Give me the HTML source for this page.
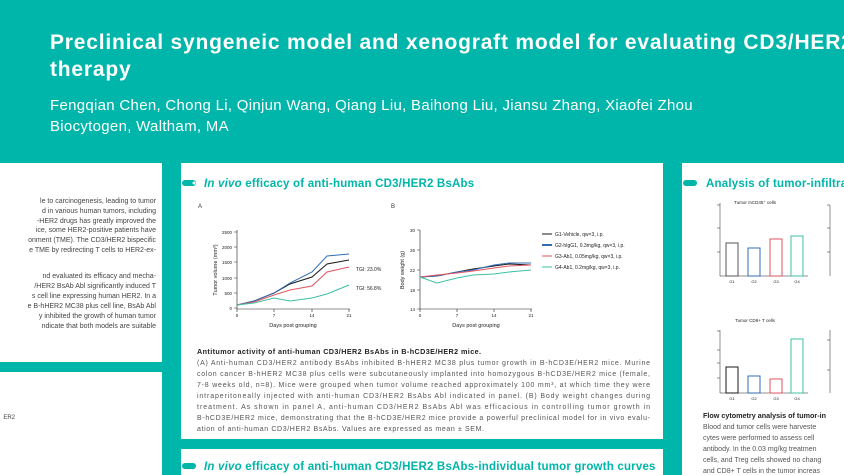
<!DOCTYPE html>
<html><head><meta charset="utf-8"><style>
body{margin:0;width:844px;height:475px;overflow:hidden;background:#00b5a9;font-family:"Liberation Sans",sans-serif;position:relative}
.p{position:absolute;background:#fff}
.t{position:absolute;color:#fff;white-space:nowrap}
.clip{position:absolute;left:0;top:0;width:844px;height:160px;overflow:hidden}
svg{position:absolute;left:0;top:0}
</style></head><body>
<div class="clip">
<div class="t" style="left:50px;top:31px;font-size:21px;font-weight:bold;letter-spacing:0.8px">Preclinical syngeneic model and xenograft model for evaluating CD3/HER2</div>
<div class="t" style="left:50px;top:58px;font-size:21px;font-weight:bold;letter-spacing:0.8px">therapy</div>
<div class="t" style="left:50px;top:97px;font-size:15px;letter-spacing:0.3px">Fengqian Chen, Chong Li, Qinjun Wang, Qiang Liu, Baihong Liu, Jiansu Zhang, Xiaofei Zhou</div>
<div class="t" style="left:50px;top:118px;font-size:15px;letter-spacing:0.3px">Biocytogen, Waltham, MA</div>
</div>
<div class="p" style="left:0;top:163px;width:162px;height:199px"></div>
<div class="p" style="left:0;top:372px;width:162px;height:103px"></div>
<div class="p" style="left:181px;top:163px;width:482px;height:276px"></div>
<div class="p" style="left:181px;top:449px;width:482px;height:26px"></div>
<div class="p" style="left:682px;top:163px;width:162px;height:312px"></div>
<svg width="844" height="475" font-family="Liberation Sans, sans-serif">
<g font-size="7" fill="#444" text-anchor="end">
<text x="156" y="203">le to carcinogenesis, leading to tumor</text>
<text x="156" y="213">d in various human tumors, including</text>
<text x="156" y="223">-HER2 drugs has greatly improved the</text>
<text x="156" y="232">ice, some HER2-positive patients have</text>
<text x="156" y="242">onment (TME). The CD3/HER2 bispecific</text>
<text x="156" y="252">e TME by redirecting T cells to HER2-ex-</text>
<text x="156" y="278">nd evaluated its efficacy and mecha-</text>
<text x="156" y="288">/HER2 BsAb Abl significantly induced T</text>
<text x="156" y="298">s cell line expressing human HER2. In a</text>
<text x="156" y="308">e B-hHER2 MC38 plus cell line, BsAb Abl</text>
<text x="156" y="318">y inhibited the growth of human tumor</text>
<text x="156" y="328">ndicate that both models are suitable</text>
<text x="15" y="419" font-size="6">ER2</text>
</g>
<rect x="182" y="180" width="14" height="6" rx="3" fill="#00b5a9"/><circle cx="194" cy="183" r="1.5" fill="#fff"/>
<text x="204" y="187" font-size="11.5" font-weight="bold" fill="#00b5a9" letter-spacing="0.2"><tspan font-style="italic">In vivo</tspan> efficacy of anti-human CD3/HER2 BsAbs</text>
<text x="204" y="470" font-size="11.5" font-weight="bold" fill="#00b5a9" letter-spacing="0.2"><tspan font-style="italic">In vivo</tspan> efficacy of anti-human CD3/HER2 BsAbs-individual tumor growth curves</text>
<rect x="182" y="463" width="14" height="6" rx="3" fill="#00b5a9"/>
<text x="198" y="208" font-size="6" fill="#333">A</text><text x="391" y="208" font-size="6" fill="#333">B</text>
<g stroke="#222" stroke-width="0.6" fill="none">
<path d="M237 230V309H350"/><path d="M234 232h3M234 247h3M234 262h3M234 278h3M234 293h3M234 308h3M237 309v3M274 309v3M312 309v3M349 309v3"/>
<path d="M420 230V309H532"/><path d="M417 230h3M417 250h3M417 270h3M417 290h3M417 309h3M420 309v3M457 309v3M494 309v3M531 309v3"/>
</g>
<g font-size="4.5" fill="#222">
<g text-anchor="end"><text x="232" y="234">2500</text><text x="232" y="249">2000</text><text x="232" y="264">1500</text><text x="232" y="280">1000</text><text x="232" y="295">500</text><text x="232" y="310">0</text>
<text x="415" y="232">30</text><text x="415" y="252">26</text><text x="415" y="272">22</text><text x="415" y="292">18</text><text x="415" y="311">14</text></g>
<g text-anchor="middle"><text x="237" y="317">0</text><text x="274" y="317">7</text><text x="312" y="317">14</text><text x="349" y="317">21</text>
<text x="420" y="317">0</text><text x="457" y="317">7</text><text x="494" y="317">14</text><text x="531" y="317">21</text>
<text x="293" y="327" font-size="5.5">Days post grouping</text><text x="476" y="327" font-size="5.5">Days post grouping</text></g>
<text transform="translate(217,270) rotate(-90)" text-anchor="middle" font-size="5.5">Tumor volume (mm³)</text>
<text transform="translate(404,270) rotate(-90)" text-anchor="middle" font-size="5.5">Body weight (g)</text>
<text x="356" y="271" font-size="5">TGI: 23.0%</text><text x="356" y="290" font-size="5">TGI: 56.8%</text>
</g>
<g fill="none" stroke-width="1">
<polyline stroke="#1a1a1a" points="237,305 254,301 274,293 290,284 312,277 327,264 349,260"/>
<polyline stroke="#2f6db5" points="237,305 254,301 274,293 290,283 312,272 327,256 349,254"/>
<polyline stroke="#e0555f" points="237,305 254,302 274,295 290,290 312,286 327,272 349,267"/>
<polyline stroke="#3cc0a5" points="237,305 254,303 274,298 290,301 312,298 327,294 349,285"/>
<polyline stroke="#1a1a1a" points="420,277 437,276 457,272 473,269 494,266 509,264 531,265"/>
<polyline stroke="#2f6db5" points="420,277 437,276 457,272 473,270 494,265 509,263 531,263"/>
<polyline stroke="#e0555f" points="420,277 437,275 457,273 473,271 494,268 509,266 531,265"/>
<polyline stroke="#3cc0a5" points="420,277 437,283 457,278 473,275 494,274 509,272 531,270"/>
</g>
<g font-size="5" fill="#222">
<line x1="542" y1="234" x2="552" y2="234" stroke="#1a1a1a"/><text x="555" y="236">G1-Vehicle, qw×3, i.p.</text>
<line x1="542" y1="245" x2="552" y2="245" stroke="#2f6db5" stroke-width="2"/><text x="555" y="247">G2-hIgG1, 0.3mg/kg, qw×3, i.p.</text>
<line x1="542" y1="256" x2="552" y2="256" stroke="#e0555f"/><text x="555" y="258">G3-Ab1, 0.05mg/kg, qw×3, i.p.</text>
<line x1="542" y1="267" x2="552" y2="267" stroke="#3cc0a5"/><text x="555" y="269">G4-Ab1, 0.2mg/kg, qw×3, i.p.</text>
</g>
<text x="197" y="354" font-size="7.2" font-weight="bold" fill="#222" textLength="284">Antitumor activity of anti-human CD3/HER2 BsAbs in B-hCD3E/HER2 mice.</text>
<g font-size="7" fill="#555">
<text x="197" y="365" textLength="453">(A) Anti-human CD3/HER2 antibody BsAbs inhibited B-hHER2 MC38 plus tumor growth in B-hCD3E/HER2 mice. Murine</text>
<text x="197" y="376" textLength="453">colon cancer B-hHER2 MC38 plus cells were subcutaneously implanted into homozygous B-hCD3E/HER2 mice (female,</text>
<text x="197" y="387" textLength="453">7-8 weeks old, n=8). Mice were grouped when tumor volume reached approximately 100 mm³, at which time they were</text>
<text x="197" y="398" textLength="453">intraperitoneally injected with anti-human CD3/HER2 BsAbs Abl indicated in panel. (B) Body weight changes during</text>
<text x="197" y="409" textLength="453">treatment. As shown in panel A, anti-human CD3/HER2 BsAbs Abl was efficacious in controlling tumor growth in</text>
<text x="197" y="420" textLength="453">B-hCD3E/HER2 mice, demonstrating that the B-hCD3E/HER2 mice provide a powerful preclinical model for in vivo evalu-</text>
<text x="197" y="431" textLength="287">ation of anti-human CD3/HER2 BsAbs. Values are expressed as mean ± SEM.</text>
</g>
<rect x="683" y="180" width="14" height="6" rx="3" fill="#00b5a9"/>
<text x="706" y="187" font-size="11.5" font-weight="bold" fill="#00b5a9" letter-spacing="0.2">Analysis of tumor-infiltra</text>
<text x="755" y="204" font-size="4.5" text-anchor="middle" fill="#222">Tumor mCD45⁺ cells</text>
<text x="755" y="322" font-size="4.5" text-anchor="middle" fill="#222">Tumor CD8+ T cells</text>
<g stroke="#222" stroke-width="0.5" fill="none">
<path d="M720 203V276H808M717 205h3M717 228h3M717 252h3"/><path d="M830 205V276M830 228h-3M830 252h-3M830 205h-3"/>
<path d="M720 330V393H808M717 331h3M717 350h3M717 363h3M717 378h3"/><path d="M830 330V393M830 340h-3M830 370h-3"/>
<rect x="726" y="243" width="12" height="33" stroke="#555" stroke-width="1"/>
<rect x="748" y="248" width="12" height="28" stroke="#2f6db5" stroke-width="1"/>
<rect x="770" y="239" width="12" height="37" stroke="#e0555f" stroke-width="1"/>
<rect x="791" y="236" width="12" height="40" stroke="#3cc0a5" stroke-width="1"/>
<rect x="726" y="367" width="12" height="26" stroke="#1a1a1a" stroke-width="1"/>
<rect x="748" y="376" width="12" height="17" stroke="#2f6db5" stroke-width="1"/>
<rect x="770" y="379" width="12" height="14" stroke="#e0555f" stroke-width="1"/>
<rect x="791" y="339" width="12" height="54" stroke="#3cc0a5" stroke-width="1"/>
</g>
<g font-size="4" fill="#222" text-anchor="middle"><text x="732" y="283">G1</text><text x="754" y="283">G2</text><text x="776" y="283">G3</text><text x="797" y="283">G4</text>
<text x="732" y="400">G1</text><text x="754" y="400">G2</text><text x="776" y="400">G3</text><text x="797" y="400">G4</text></g>
<text x="703" y="418" font-size="7.2" font-weight="bold" fill="#222">Flow cytometry analysis of tumor-in</text>
<g font-size="7" fill="#555"><text x="703" y="429">Blood and tumor cells were harveste</text><text x="703" y="440">cytes were performed to assess cell</text><text x="703" y="451">antibody. In the 0.03 mg/kg treatmen</text><text x="703" y="462">cells, and Treg cells showed no chang</text><text x="703" y="473">and CD8+ T cells in the tumor increas</text></g>
</svg>
</body></html>
